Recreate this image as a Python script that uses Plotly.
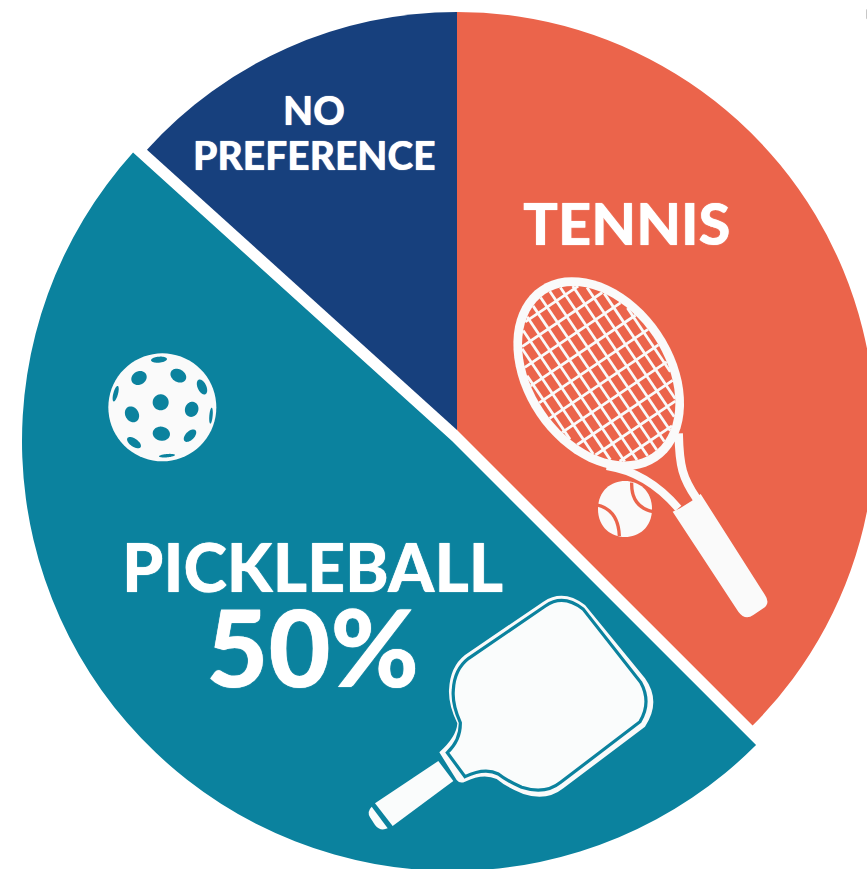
import numpy as np
import plotly.graph_objects as go

W, H = 920, 920
categories = ["Tennis", "Pickleball", "No preference"]
values = [37.5, 49.2, 13.3]
ORANGE, TEAL, NAVY = "#EB644B", "#0B829E", "#17407D"
WHITE = "#FAFAFA"
CLEAR = "rgba(0,0,0,0)"


def X(v):
    return v / W


def Y(v):
    return 1 - v / H


def path_from(pts):
    return "M" + " L".join(f"{X(a):.5f},{Y(b):.5f}" for a, b in pts) + " Z"


def ellipse(cx, cy, rx, ry, deg):
    t = np.linspace(0, 2 * np.pi, 73)[:-1]
    c, s = np.cos(np.radians(deg)), np.sin(np.radians(deg))
    x = rx * np.cos(t)
    y = ry * np.sin(t)
    return path_from(list(zip(cx + x * c - y * s, cy + x * s + y * c)))


def zpath(cmds, ox, oy, closed=True):
    """cmds use zoomed 3x coordinates from origin (ox, oy)."""
    out = []
    for op, *nums in cmds:
        pts = []
        for i in range(0, len(nums), 2):
            pts.append(f"{X(ox + nums[i] / 3):.5f},{Y(oy + nums[i + 1] / 3):.5f}")
        out.append(op + " ".join(pts))
    return " ".join(out) + (" Z" if closed else "")


shapes = []


def add(path, fill=None, line=None, width=0):
    shapes.append(dict(type="path", xref="paper", yref="paper", path=path, layer="above",
                       fillcolor=fill or CLEAR,
                       line=dict(color=line or CLEAR, width=width)))


# --- tennis racket ---
RX, RY = 598.7, 373.7
ang = 34
ux, uy = np.sin(np.radians(ang)), np.cos(np.radians(ang))   # long axis
vx, vy = uy, -ux                                            # short axis
ell_deg = 90 - ang
O1 = (490, 260)
add(zpath([("M", 350, 618), ("C", 430, 630, 505, 675, 565, 745)], *O1, closed=False), line=WHITE, width=8)
add(zpath([("M", 566, 520), ("C", 568, 620, 578, 655, 620, 716)], *O1, closed=False), line=WHITE, width=8.5)
add(ellipse(RX, RY, 105, 74.7, ell_deg), fill=WHITE)
ia, ib = 96, 66
add(ellipse(RX, RY, ia, ib, ell_deg), fill=ORANGE)
for off in np.arange(-60.5, 61, 11):
    half = ia * np.sqrt(1 - (off / ib) ** 2)
    a = (RX + off * vx - half * ux, RY + off * vy - half * uy)
    b = (RX + off * vx + half * ux, RY + off * vy + half * uy)
    add(f"M{X(a[0]):.5f},{Y(a[1]):.5f} L{X(b[0]):.5f},{Y(b[1]):.5f}", line=WHITE, width=2.8)
for off in np.arange(-84, 85, 18.7):
    half = ib * np.sqrt(1 - (off / ia) ** 2)
    a = (RX + off * ux - half * vx, RY + off * uy - half * vy)
    b = (RX + off * ux + half * vx, RY + off * uy + half * vy)
    add(f"M{X(a[0]):.5f},{Y(a[1]):.5f} L{X(b[0]):.5f},{Y(b[1]):.5f}", line=WHITE, width=2.8)
add(zpath([("M", 548, 755), ("L", 570, 745), ("L", 606, 722), ("L", 632, 702), ("L", 825, 1005),
           ("Q", 842, 1030, 820, 1045), ("L", 790, 1065), ("Q", 765, 1082, 745, 1055)], *O1), fill=WHITE)
add(zpath([("M", 405 - 81, 747), ("C", 324, 635, 486, 635, 486, 747), ("C", 486, 859, 324, 859, 324, 747)], *O1),
    fill=WHITE)
add(zpath([("M", 425, 668), ("Q", 423, 742, 490, 755)], *O1, closed=False), line=ORANGE, width=3.3)
add(zpath([("M", 322, 735), ("Q", 385, 750, 388, 828)], *O1, closed=False), line=ORANGE, width=3.3)

# --- paddle ---
O2 = (350, 580)
PAPER = "#FAFCFC"
add(zpath([("M", 268, 517), ("Q", 320, 470, 322, 430), ("Q", 295, 375, 297, 330), ("Q", 300, 260, 345, 225),
           ("L", 580, 65), ("Q", 640, 25, 705, 75), ("L", 885, 295), ("Q", 935, 365, 885, 440),
           ("L", 640, 625), ("Q", 590, 665, 520, 642), ("Q", 470, 622, 440, 597), ("Q", 400, 578, 345, 605),
           ("Q", 330, 612, 320, 600)], *O2), fill=WHITE)
add(zpath([("M", 292, 518), ("Q", 332, 480, 331, 428), ("Q", 306, 372, 310, 330), ("Q", 313, 268, 356, 235),
           ("L", 586, 78), ("Q", 640, 40, 700, 88), ("L", 872, 307), ("Q", 905, 367, 870, 425),
           ("L", 632, 607), ("Q", 585, 645, 515, 622), ("Q", 470, 602, 445, 582), ("Q", 405, 561, 345, 590)], *O2),
    fill=PAPER, line=TEAL, width=3.2)
add(zpath([("M", 75, 670), ("L", 265, 543), ("L", 310, 603), ("L", 128, 738)], *O2), fill=PAPER)
add(zpath([("M", 65, 680), ("L", 113, 745), ("Q", 90, 755, 75, 735), ("L", 60, 712), ("Q", 50, 695, 65, 680)], *O2),
    fill=PAPER)

# --- pickleball ---
add(ellipse(95 + 202 / 3, 340 + 202 / 3, 54, 54, 0), fill=WHITE)
holes = [(192, 59, 24, 9, -5), (132, 114, 24, 20, -30), (250, 107, 25, 19, 30), (321, 141, 24, 13, 65),
         (62, 161, 24, 7, -75), (197, 187, 24, 24, 0), (111, 223, 25, 20, 60), (290, 208, 23, 20, -70),
         (348, 227, 24, 5, -85), (199, 281, 26, 21, 10), (285, 287, 23, 13, -45), (117, 308, 24, 12, 35),
         (216, 347, 24, 5, -5)]
for hx, hy, hrx, hry, hd in holes:
    add(ellipse(95 + hx / 3, 340 + hy / 3, hrx / 3, hry / 3, hd), fill=TEAL)


def pie(cx, cy, r, colors):
    return go.Pie(labels=categories, values=values, sort=False, direction="clockwise", rotation=0,
                  domain=dict(x=[X(cx - r), X(cx + r)], y=[Y(cy + r), Y(cy - r)]),
                  marker=dict(colors=colors, line=dict(width=0)),
                  textinfo="none", hoverinfo="label+percent", showlegend=False)


fig = go.Figure([
    pie(457, 430, 418, [ORANGE, CLEAR, NAVY]),
    pie(452, 441, 430, [CLEAR, TEAL, CLEAR]),
])


def label(text, x, y, size):
    return dict(text=text, x=X(x), y=Y(y), xref="paper", yref="paper", xanchor="center", yanchor="middle",
                showarrow=False,
                font=dict(family="Lato", size=size, color="white", weight=900, shadow="0 0 1px white"))


fig.update_layout(
    width=W, height=H, autosize=False, margin=dict(l=0, r=0, t=0, b=0, pad=0),
    paper_bgcolor="white", plot_bgcolor="white", shapes=shapes,
    annotations=[label("TENNIS", 627, 222, 58), label("NO", 314, 110, 39), label("PREFERENCE", 314, 155, 39),
                 label("<span style='font-size:66px'>PICKLEBALL</span><br>"
                       "<span style='font-size:107px'>50%</span>", 312, 618, 73)],
)
fig.write_html("out.html", post_script="document.documentElement.style.overflow='hidden';"
               "document.body.style.overflow='hidden';document.body.style.margin='0';")
